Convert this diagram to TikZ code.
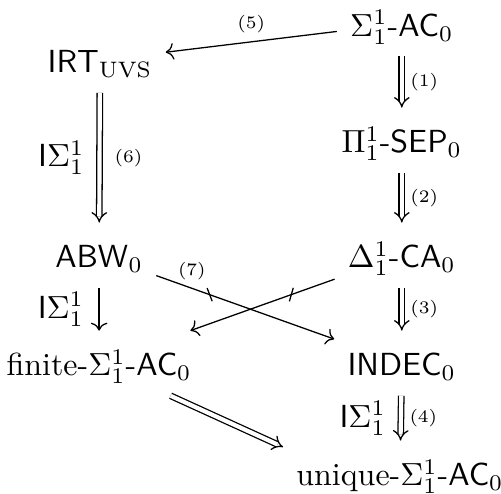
\documentclass[tikz,border=0pt]{standalone}
\usepackage{amsmath,amssymb}
\usetikzlibrary{arrows.meta,calc}

\begin{document}
\begin{tikzpicture}[
  sys/.style={anchor=base,text height=10pt,text depth=2pt,inner sep=4pt},
  impl/.style={double,double distance=1.3pt,-Implies},
  num/.style={font=\fontsize{5.5}{6}\selectfont,inner sep=2.5pt},
  ind/.style={left,inner sep=4.5pt}]
  \useasboundingbox (0,0) rectangle (5.511,-5.434);

  \node[sys] (sac)   at (4.42,-0.40)   {$\Sigma^1_1$-$\mathsf{AC}_0$};
  \node[sys] (irt)   at (1.10,-0.803)  {$\mathsf{IRT}_{\mathrm{UVS}}$};
  \node[sys] (psep)  at (4.42,-1.683)  {$\Pi^1_1$-$\mathsf{SEP}_0$};
  \node[sys] (abw)   at (1.09,-2.948)  {$\mathsf{ABW}_0$};
  \node[sys] (dca)   at (4.42,-2.948)  {$\Delta^1_1$-$\mathsf{CA}_0$};
  \node[sys] (fin)   at (1.09,-4.136)  {finite-$\Sigma^1_1$-$\mathsf{AC}_0$};
  \node[sys] (indec) at (4.42,-4.136)  {$\mathsf{INDEC}_0$};
  \node[sys] (uniq)  at (4.40,-5.346)  {unique-$\Sigma^1_1$-$\mathsf{AC}_0$};

  \draw[->] (sac) -- node[num,above] {(5)} (irt);
  \draw[impl] (sac) -- node[num,right] {(1)} (psep);
  \draw[impl] (psep) -- node[num,right] {(2)} (dca);
  \draw[impl] (dca) -- node[num,right] {(3)} (indec);
  \draw[impl] (indec) -- node[num,right] {(4)} node[ind] {$\mathsf{I}\Sigma^1_1$} (uniq);
  \draw[impl] (irt) -- node[num,right,xshift=2pt] {(6)} node[ind] {$\mathsf{I}\Sigma^1_1$} (abw);
  \draw[->] (abw) -- node[ind] {$\mathsf{I}\Sigma^1_1$} (fin);
  % the two non-implications (7)
  \draw[->] (abw) -- node[num,pos=0.2,above] {(7)} coordinate[pos=0.3] (n1) (indec);
  \draw[->] (dca) -- coordinate[pos=0.3] (n2) (fin);
  \draw (n1) ++(111:2.2pt) -- ++(-69:4.4pt);
  \draw (n2) ++(74:2.2pt) -- ++(-106:4.4pt);
  \draw[impl] (fin) -- ([yshift=-2pt]uniq.north west);
\end{tikzpicture}
\end{document}
